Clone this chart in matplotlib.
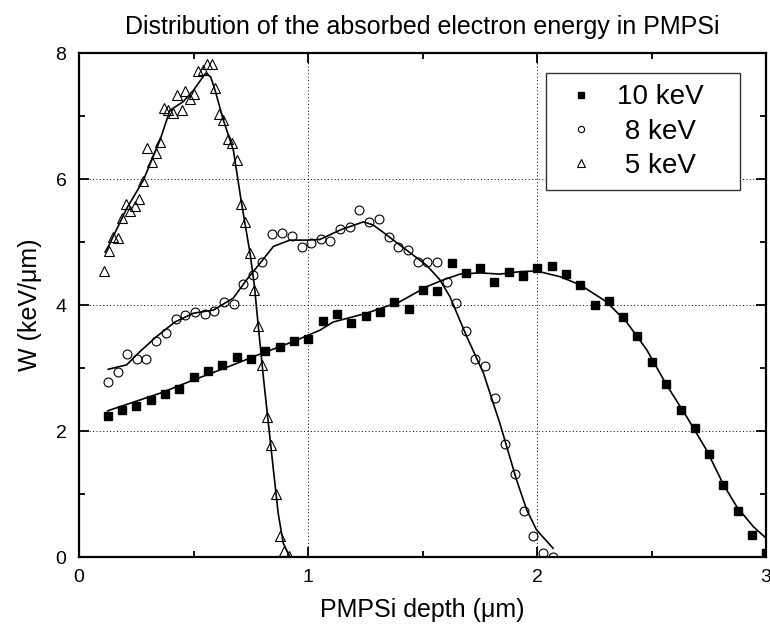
import matplotlib
matplotlib.use("Agg")
import matplotlib.pyplot as plt

plt.rcParams['font.family'] = ['Liberation Sans', 'DejaVu Sans']

# measured points, 10 keV (filled squares)
x10 = [0.125, 0.188, 0.25, 0.313, 0.376, 0.438, 0.50, 0.563, 0.626, 0.689, 0.751, 0.814,
       0.876, 0.939, 1.001, 1.064, 1.127, 1.189, 1.252, 1.314, 1.377, 1.44, 1.502, 1.563,
       1.627, 1.689, 1.751, 1.814, 1.876, 1.939, 2.001, 2.064, 2.127, 2.189, 2.252, 2.314,
       2.377, 2.438, 2.501, 2.563, 2.627, 2.689, 2.751, 2.814, 2.878, 2.94, 3.0]
y10 = [2.24, 2.34, 2.40, 2.49, 2.58, 2.67, 2.85, 2.96, 3.04, 3.17, 3.14, 3.27,
       3.34, 3.43, 3.46, 3.74, 3.86, 3.71, 3.83, 3.89, 4.04, 3.93, 4.24, 4.22,
       4.66, 4.51, 4.59, 4.37, 4.52, 4.46, 4.59, 4.62, 4.50, 4.31, 4.00, 4.07,
       3.81, 3.51, 3.10, 2.74, 2.33, 2.04, 1.63, 1.15, 0.73, 0.35, 0.06]

# 8 keV (open circles)
x8 = [0.128, 0.169, 0.211, 0.253, 0.294, 0.338, 0.38, 0.422, 0.464, 0.507, 0.549, 0.591,
      0.633, 0.676, 0.717, 0.758, 0.80, 0.844, 0.885, 0.929, 0.972, 1.015, 1.055, 1.097,
      1.14, 1.183, 1.224, 1.266, 1.31, 1.352, 1.394, 1.437, 1.479, 1.521, 1.563, 1.606,
      1.646, 1.689, 1.731, 1.773, 1.817, 1.859, 1.902, 1.943, 1.984, 2.028, 2.07]
y8 = [2.77, 2.94, 3.22, 3.14, 3.15, 3.43, 3.55, 3.77, 3.84, 3.89, 3.85, 3.91,
      4.04, 4.01, 4.34, 4.47, 4.69, 5.13, 5.15, 5.10, 4.92, 4.98, 5.04, 5.02,
      5.20, 5.24, 5.51, 5.31, 5.36, 5.08, 4.92, 4.87, 4.68, 4.68, 4.68, 4.37,
      4.03, 3.58, 3.14, 3.03, 2.53, 1.79, 1.32, 0.73, 0.33, 0.06, 0.0]

# 5 keV (open triangles)
x5 = [0.11, 0.131, 0.15, 0.169, 0.188, 0.205, 0.224, 0.243, 0.262, 0.281, 0.298, 0.317,
      0.336, 0.354, 0.371, 0.39, 0.412, 0.428, 0.448, 0.464, 0.485, 0.504, 0.52, 0.54,
      0.558, 0.579, 0.594, 0.611, 0.63, 0.651, 0.669, 0.691, 0.709, 0.726, 0.747, 0.766,
      0.783, 0.80, 0.822, 0.84, 0.86, 0.878, 0.895, 0.916]
y5 = [4.54, 4.86, 5.08, 5.07, 5.38, 5.61, 5.50, 5.57, 5.68, 5.97, 6.50, 6.27,
      6.42, 6.58, 7.13, 7.09, 7.04, 7.34, 7.10, 7.40, 7.27, 7.35, 7.72, 7.73,
      7.83, 7.83, 7.45, 7.03, 6.94, 6.63, 6.57, 6.30, 5.60, 5.32, 4.82, 4.24,
      3.66, 3.04, 2.22, 1.78, 1.00, 0.34, 0.10, 0.02]

# fitted curves
fx10 = [0.125, 0.354, 0.5, 0.645, 0.79, 0.936, 1.052, 1.11, 1.256, 1.40, 1.518, 1.591,
        1.664, 1.751, 1.838, 1.926, 1.998, 2.10, 2.188, 2.304, 2.391, 2.479, 2.566,
        2.653, 2.74, 2.814, 2.872, 2.945, 3.0]
fy10 = [2.32, 2.60, 2.81, 3.01, 3.22, 3.42, 3.60, 3.73, 3.87, 4.05, 4.29, 4.40,
        4.49, 4.51, 4.49, 4.53, 4.54, 4.45, 4.32, 4.05, 3.73, 3.29, 2.73,
        2.23, 1.70, 1.15, 0.80, 0.48, 0.30]

fx8 = [0.128, 0.208, 0.266, 0.339, 0.419, 0.5, 0.587, 0.674, 0.732, 0.79, 0.849, 0.921,
       0.994, 1.052, 1.14, 1.242, 1.285, 1.344, 1.431, 1.518, 1.576, 1.62, 1.693, 1.766,
       1.838, 1.911, 1.955, 1.998, 2.07]
fy8 = [2.98, 3.05, 3.26, 3.50, 3.73, 3.87, 3.92, 4.11, 4.40, 4.66, 4.93, 5.03,
       5.03, 5.04, 5.19, 5.32, 5.27, 5.11, 4.87, 4.63, 4.40, 4.13, 3.50, 2.92,
       2.12, 1.22, 0.75, 0.43, 0.14]

fx5 = [0.114, 0.131, 0.208, 0.281, 0.354, 0.397, 0.456, 0.5, 0.553, 0.575, 0.594, 0.63,
       0.674, 0.71, 0.747, 0.766, 0.783, 0.805, 0.827, 0.849, 0.87, 0.892, 0.921]
fy5 = [4.84, 4.95, 5.53, 5.98, 6.62, 7.09, 7.23, 7.41, 7.68, 7.62, 7.41, 6.94,
       6.46, 5.61, 4.82, 4.30, 3.66, 2.86, 2.12, 1.38, 0.69, 0.22, 0.0]

labels = ["10 keV", " 8 keV", " 5 keV"]

fig = plt.figure(figsize=(7.7, 6.3), dpi=100)
ax = fig.add_axes([79 / 770, 1 - 557 / 630, 687 / 770, 504 / 630])

ax.plot(fx10, fy10, color='black', lw=1.2)
ax.plot(fx8, fy8, color='black', lw=1.2)
ax.plot(fx5, fy5, color='black', lw=1.2)

ax.plot(x10, y10, 's', color='black', ms=5.8, label=labels[0])
ax.plot(x8, y8, 'o', mfc='none', mec='black', mew=0.8, ms=6.4, label=labels[1])
ax.plot(x5, y5, '^', mfc='none', mec='black', mew=0.8, ms=7.4, label=labels[2])

ax.set_xlim(0, 3)
ax.set_ylim(0, 8)
ax.set_xticks([0, 1, 2, 3])
ax.set_xticks([0.5, 1.5, 2.5], minor=True)
ax.set_yticks([0, 2, 4, 6, 8])
ax.set_yticks([1, 3, 5, 7], minor=True)
ax.grid(True, which='major', color='black', linestyle=(0, (1, 2.5)), lw=0.7)
ax.tick_params(which='both', direction='in', top=True, right=True, width=1.3,
               labelsize=14, pad=9)
ax.tick_params(which='major', length=7)
ax.tick_params(which='minor', length=4.5)
for s in ax.spines.values():
    s.set_linewidth(1.6)

ax.set_xlabel("PMPSi depth (μm)", fontsize=18, labelpad=8)
ax.set_ylabel("W (keV/μm)", fontsize=18, labelpad=10)
ax.set_title("Distribution of the absorbed electron energy in PMPSi", fontsize=18, pad=14)

leg = ax.legend(loc='upper left', bbox_to_anchor=(0.680, 0.728, 0.282, 0.232),
                mode='expand', borderaxespad=0, fontsize=20, frameon=True,
                fancybox=False, framealpha=1, edgecolor='#333333', borderpad=0.4,
                handlelength=1.73, handletextpad=0.43, labelspacing=0.3,
                markerscale=0.7)
leg.get_frame().set_linewidth(1.0)

fig.savefig("out.png", dpi=100)
